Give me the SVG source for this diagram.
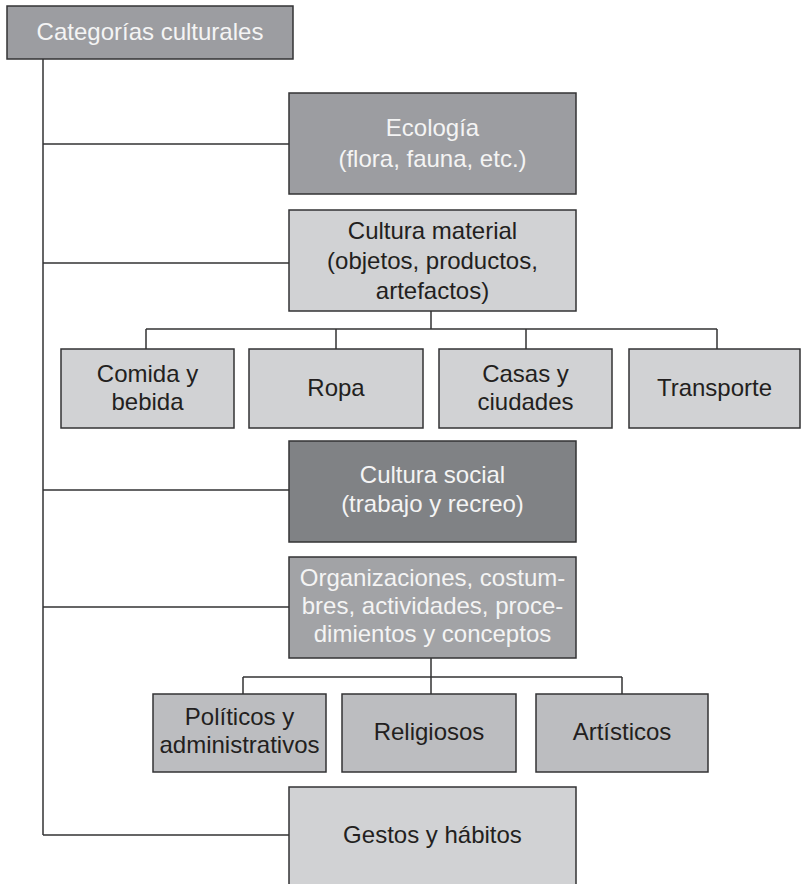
<svg xmlns="http://www.w3.org/2000/svg" width="801" height="884" viewBox="0 0 801 884">
<style>
  .box { stroke: #333335; stroke-width: 1.5; }
  .mid { fill: #9c9da1; }
  .dark { fill: #808285; }
  .light { fill: #d1d2d4; }
  .org { fill: #a2a3a6; }
  .sub { fill: #bcbdc0; }
  text { font-family: "Liberation Sans", Arial, sans-serif; font-size: 24px; text-anchor: middle; }
  .w { fill: #f4f4f4; }
  .k { fill: #231f20; }
  #connectors path { fill: none; stroke: #333335; stroke-width: 1.5; }
</style>
<g id="connectors">
  <path d="M43 59 V835 M43 144 H289 M43 263 H289 M43 490 H289 M43 607 H289 M43 835 H289"/>
  <path d="M431 311 V329 M146 329 H717 M146 329 V349 M336 329 V349 M526 329 V349 M717 329 V349"/>
  <path d="M431 658 V694 M243 677 H622 M243 677 V694 M622 677 V694"/>
</g>
<g id="n-categorias">
  <rect class="box mid" x="7" y="6" width="286" height="53"/>
  <text class="w" x="150" y="40">Categorías culturales</text>
</g>
<g id="n-ecologia">
  <rect class="box mid" x="289" y="93" width="287" height="101"/>
  <text class="w" x="432.5" y="136">Ecología</text>
  <text class="w" x="432.5" y="167">(flora, fauna, etc.)</text>
</g>
<g id="n-material">
  <rect class="box light" x="289" y="210" width="287" height="101"/>
  <text class="k" x="432.5" y="239">Cultura material</text>
  <text class="k" x="432.5" y="269">(objetos, productos,</text>
  <text class="k" x="432.5" y="299">artefactos)</text>
</g>
<g id="n-comida">
  <rect class="box light" x="61" y="349" width="173" height="79"/>
  <text class="k" x="147.5" y="382">Comida y</text>
  <text class="k" x="147.5" y="410">bebida</text>
</g>
<g id="n-ropa">
  <rect class="box light" x="249" y="349" width="174" height="79"/>
  <text class="k" x="336" y="396">Ropa</text>
</g>
<g id="n-casas">
  <rect class="box light" x="439" y="349" width="173" height="79"/>
  <text class="k" x="525.5" y="382">Casas y</text>
  <text class="k" x="525.5" y="410">ciudades</text>
</g>
<g id="n-transporte">
  <rect class="box light" x="629" y="349" width="171" height="79"/>
  <text class="k" x="714.5" y="396">Transporte</text>
</g>
<g id="n-social">
  <rect class="box dark" x="289" y="441" width="287" height="101"/>
  <text class="w" x="432.5" y="483">Cultura social</text>
  <text class="w" x="432.5" y="512">(trabajo y recreo)</text>
</g>
<g id="n-organizaciones">
  <rect class="box org" x="289" y="557" width="287" height="101"/>
  <text class="w" x="432.5" y="586">Organizaciones, costum-</text>
  <text class="w" x="432.5" y="614">bres, actividades, proce-</text>
  <text class="w" x="432.5" y="642">dimientos y conceptos</text>
</g>
<g id="n-politicos">
  <rect class="box sub" x="153" y="694" width="173" height="78"/>
  <text class="k" x="239.5" y="725">Políticos y</text>
  <text class="k" x="239.5" y="753">administrativos</text>
</g>
<g id="n-religiosos">
  <rect class="box sub" x="342" y="694" width="174" height="78"/>
  <text class="k" x="429" y="740">Religiosos</text>
</g>
<g id="n-artisticos">
  <rect class="box sub" x="536" y="694" width="172" height="78"/>
  <text class="k" x="622" y="740">Artísticos</text>
</g>
<g id="n-gestos">
  <rect class="box light" x="289" y="787" width="287" height="110"/>
  <text class="k" x="432.5" y="843">Gestos y hábitos</text>
</g>
</svg>
